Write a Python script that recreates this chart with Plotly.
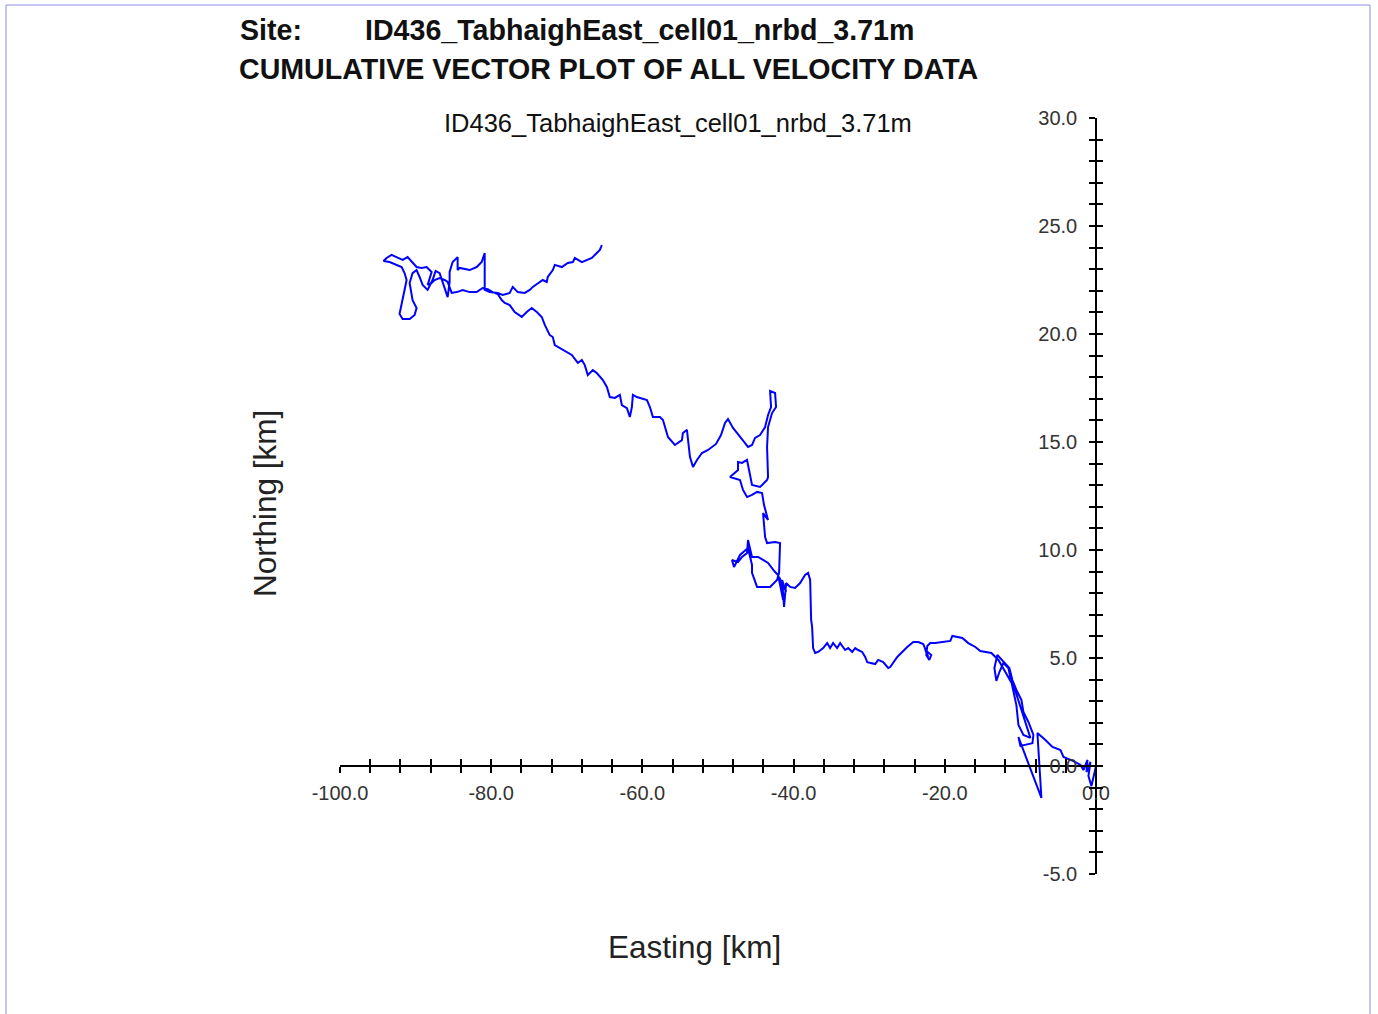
import plotly.graph_objects as go

# ---------------- data (km) ----------------
east_km = [
    0.0, -0.33, -0.6, -1.0, -0.73, -1.26, -1.13, -1.66, -2.05, -2.98,
    -4.3, -4.7, -5.76, -6.69, -7.75, -7.22, -10.26, -10.0, -8.41, -8.28,
    -8.94, -9.6, -9.87, -10.53, -11.06, -11.46, -12.12, -13.05, -13.44, -13.18,
    -12.78, -12.25, -11.59, -10.93, -10.53, -10.26, -9.6, -8.68, -9.47, -10.26,
    -10.79, -11.99, -12.91, -13.84, -14.64, -15.3, -15.96, -16.89, -17.68, -18.48,
    -19.0, -19.27, -20.2, -21.26, -21.92, -22.32, -22.45, -22.05, -21.79, -22.58,
    -22.19, -22.85, -23.51, -24.17, -24.97, -25.63, -26.29, -27.22, -27.48, -28.15,
    -28.81, -29.21, -30.26, -30.53, -30.93, -31.46, -31.85, -32.25, -32.78, -33.18,
    -33.84, -34.24, -34.77, -35.17, -35.56, -36.09, -36.75, -37.15, -37.42, -37.55,
    -37.68, -37.81, -38.08, -38.48, -39.14, -39.8, -40.46, -40.99, -41.26, -41.52,
    -40.99, -41.92, -41.39, -42.05, -42.45, -43.38, -44.04, -44.7, -45.5, -46.03,
    -46.16, -46.82, -47.35, -48.15, -47.88, -47.09, -46.03, -45.5, -45.5, -44.83,
    -43.11, -42.19, -41.92, -41.79, -42.45, -43.51, -43.77, -44.04, -43.38, -43.91,
    -44.17, -44.83, -45.5, -46.16, -46.69, -47.09, -48.41, -47.35, -47.35, -46.82,
    -46.16, -45.5, -44.44, -43.51, -43.38, -43.51, -43.38, -42.85, -42.32, -42.45,
    -43.11, -42.98, -43.38, -43.77, -44.44, -45.1, -45.5, -46.03, -46.42, -47.09,
    -48.01, -48.68, -49.07, -49.6, -50.26, -51.32, -52.12, -52.78, -53.31, -53.71,
    -53.97, -54.11, -54.64, -54.77, -55.7, -56.62, -57.28, -57.68, -58.61, -59.01,
    -59.4, -60.73, -61.26, -61.39, -61.66, -62.05, -62.72, -62.98, -63.64, -64.31,
    -64.7, -65.23, -66.03, -66.56, -67.22, -67.62, -68.01, -68.54, -69.34, -70.53,
    -71.59, -71.85, -72.25, -72.91, -73.31, -73.97, -74.64, -75.3, -75.96, -76.89,
    -77.55, -78.21, -78.61, -79.14, -79.8, -80.46, -81.13, -81.92, -82.85, -83.77,
    -84.57, -85.23, -85.5, -85.76, -86.16, -86.82, -87.48, -87.88, -88.41, -88.15,
    -87.88, -88.54, -89.21, -89.87, -90.53, -91.06, -91.72, -92.52, -93.18, -93.84,
    -94.24, -93.44, -92.78, -91.85, -91.46, -91.19, -91.46, -91.72, -91.99, -92.12,
    -91.72, -90.79, -90.13, -89.87, -90.4, -90.53, -90.79, -90.4, -89.87, -89.47,
    -89.07, -88.41, -87.75, -87.35, -86.82, -85.76, -85.5, -85.5, -85.1, -84.44,
    -84.44, -84.17, -82.85, -81.92, -81.26, -80.86, -80.86, -80.2, -79.14, -78.48,
    -77.55, -77.15, -76.49, -75.56, -74.9, -74.5, -73.84, -73.18, -72.65, -72.52,
    -71.85, -71.59, -70.66, -69.87, -69.2, -68.94, -68.01, -67.35, -66.69, -66.03,
    -65.63, -65.36,
]
north_km = [
    0.0, -0.56, -0.93, -0.46, 0.19, -0.28, 0.28, -0.19, 0.05, 0.23,
    0.42, 0.74, 0.88, 1.2, 1.53, -1.48, 1.34, 0.93, 1.06, 1.44,
    2.04, 2.5, 3.06, 3.52, 3.98, 4.54, 4.81, 5.14, 4.54, 3.94,
    4.35, 4.77, 4.54, 3.52, 2.82, 1.9, 1.44, 1.3, 2.13, 3.06,
    3.61, 4.35, 4.91, 5.23, 5.28, 5.32, 5.51, 5.69, 5.93, 5.97,
    6.02, 5.79, 5.74, 5.69, 5.69, 5.56, 5.14, 4.91, 5.14, 5.37,
    5.05, 5.65, 5.74, 5.74, 5.51, 5.28, 5.05, 4.58, 4.54, 4.81,
    4.91, 4.72, 4.81, 5.05, 5.28, 5.37, 5.46, 5.28, 5.46, 5.37,
    5.69, 5.46, 5.69, 5.46, 5.69, 5.46, 5.28, 5.23, 5.46, 6.44,
    6.76, 8.61, 8.94, 8.84, 8.47, 8.24, 8.29, 8.47, 7.36, 8.61,
    8.06, 8.75, 7.69, 8.84, 8.98, 9.4, 9.54, 9.68, 9.68, 10.46,
    9.86, 9.68, 9.44, 9.54, 9.21, 9.77, 10.09, 9.31, 8.94, 8.29,
    8.29, 8.61, 8.94, 10.32, 10.37, 10.32, 10.6, 11.71, 11.39, 12.08,
    12.64, 12.69, 12.55, 12.45, 12.78, 13.24, 13.38, 13.7, 14.07, 14.03,
    14.17, 13.01, 12.92, 13.24, 13.38, 14.77, 15.69, 16.34, 16.62, 17.27,
    17.36, 16.62, 16.25, 15.69, 15.32, 15.19, 14.86, 14.77, 14.95, 15.23,
    15.65, 16.06, 15.88, 15.32, 14.91, 14.63, 14.49, 14.17, 13.84, 14.31,
    15.09, 15.56, 15.42, 15.09, 14.86, 15.23, 16.02, 16.16, 16.16, 16.62,
    16.94, 17.08, 17.18, 16.62, 16.16, 16.57, 16.71, 17.18, 17.04, 17.08,
    17.55, 17.87, 18.19, 18.33, 18.1, 18.56, 18.8, 18.66, 19.03, 19.26,
    19.49, 19.86, 19.95, 20.42, 20.79, 21.02, 21.2, 21.02, 20.79, 21.02,
    21.34, 21.44, 21.57, 21.85, 21.94, 22.08, 22.13, 21.94, 21.94, 22.04,
    21.94, 21.9, 22.13, 22.41, 22.5, 22.59, 22.5, 22.36, 22.27, 22.55,
    22.87, 23.1, 23.06, 23.1, 23.33, 23.56, 23.43, 23.56, 23.66, 23.52,
    23.38, 23.33, 23.24, 23.1, 22.82, 22.5, 22.04, 21.57, 21.2, 20.93,
    20.69, 20.69, 20.88, 21.2, 21.57, 21.9, 22.36, 22.82, 22.96, 22.64,
    22.27, 22.04, 22.5, 22.92, 22.82, 21.71, 22.41, 22.87, 23.33, 23.56,
    22.96, 23.06, 22.96, 23.1, 23.33, 23.75, 22.04, 21.94, 21.9, 21.81,
    21.9, 22.18, 21.94, 21.9, 22.04, 22.18, 22.36, 22.5, 22.41, 22.64,
    22.96, 23.2, 23.1, 23.29, 23.33, 23.52, 23.33, 23.43, 23.52, 23.75,
    23.89, 24.12,
]

x_major = [-100, -80, -60, -40, -20, 0]
y_major = [-5, 0, 5, 10, 15, 20, 25, 30]
x_range = [-100, 0]
y_range = [-5, 30]

site_label = "Site:"
site_name = "ID436_TabhaighEast_cell01_nrbd_3.71m"
main_title = "CUMULATIVE VECTOR PLOT OF ALL VELOCITY DATA"
x_title = "Easting [km]"
y_title = "Northing [km]"

# ---------------- figure ----------------
W, H = 1378, 1014
ML, MR, MT, MB = 340, 282, 118, 140
PW, PH = W - ML - MR, H - MT - MB


def px(xp):
    return (xp - ML) / PW


def py(yp):
    return (H - MB - yp) / PH


FONT = "Liberation Sans, Arial, sans-serif"
x0_pos = (0 - y_range[0]) / (y_range[1] - y_range[0])   # where N = 0 sits
y0_pos = (0 - x_range[0]) / (x_range[1] - x_range[0])   # where E = 0 sits

fig = go.Figure()
fig.add_trace(go.Scatter(
    x=east_km, y=north_km, mode="lines",
    line=dict(color="#0000ff", width=2),
    showlegend=False, hoverinfo="skip",
))
fig.add_trace(go.Scatter(x=[None], y=[None], xaxis="x2", yaxis="y2",
                         showlegend=False, hoverinfo="skip"))

tick_font = dict(family=FONT, size=20, color="#333333")
tick_style = dict(tickwidth=1.5, ticklen=6, tickcolor="black")
common_x = dict(range=x_range, anchor="free", position=x0_pos,
                showline=True, linecolor="black", linewidth=1.5,
                showgrid=False, zeroline=False, fixedrange=True, **tick_style)
common_y = dict(range=y_range, anchor="free", position=y0_pos, side="left",
                showline=True, linecolor="black", linewidth=1.5,
                showgrid=False, zeroline=False, fixedrange=True, **tick_style)

fig.update_layout(
    width=W, height=H,
    margin=dict(l=ML, r=MR, t=MT, b=MB, pad=0),
    paper_bgcolor="white", plot_bgcolor="white",
    xaxis=dict(**common_x, tickvals=x_major,
               ticktext=[f"{v:.1f}" for v in x_major],
               ticks="outside", tickfont=tick_font, ticklabelstandoff=3,
               ticklabeloverflow="allow",
               minor=dict(dtick=4, ticks="outside", **tick_style)),
    xaxis2=dict(**common_x, overlaying="x", ticks="inside",
                tickvals=x_major, showticklabels=False,
                minor=dict(dtick=4, ticks="inside", **tick_style)),
    yaxis=dict(**common_y, tickvals=y_major,
               ticktext=[f"{v:.1f}" for v in y_major],
               ticks="inside", tickfont=tick_font, ticklabelstandoff=14,
               ticklabeloverflow="allow",
               minor=dict(dtick=1, ticks="inside", **tick_style)),
    yaxis2=dict(**common_y, overlaying="y", ticks="outside",
                tickvals=y_major, showticklabels=False,
                minor=dict(dtick=1, ticks="outside", **tick_style)),
    shapes=[dict(type="rect", xref="paper", yref="paper",
                 x0=px(6), x1=px(1370), y0=py(1030), y1=py(5),
                 line=dict(color="#8a8ae8", width=1), layer="below")],
    annotations=[
        dict(text=f"<b>{site_label}</b>", x=px(238), y=py(30),
             xref="paper", yref="paper", xanchor="left", yanchor="middle",
             showarrow=False, font=dict(family=FONT, size=28.6, color="#111")),
        dict(text=f"<b>{site_name}</b>", x=px(363), y=py(30),
             xref="paper", yref="paper", xanchor="left", yanchor="middle",
             showarrow=False, font=dict(family=FONT, size=28.6, color="#111")),
        dict(text=f"<b>{main_title}</b>", x=px(237), y=py(69),
             xref="paper", yref="paper", xanchor="left", yanchor="middle",
             showarrow=False, font=dict(family=FONT, size=28.6, color="#111")),
        dict(text=site_name, x=px(678), y=py(123),
             xref="paper", yref="paper", xanchor="center", yanchor="middle",
             showarrow=False, font=dict(family=FONT, size=25.5, color="#111")),
        dict(text=x_title, x=px(694), y=py(947),
             xref="paper", yref="paper", xanchor="center", yanchor="middle",
             showarrow=False, font=dict(family=FONT, size=31.5, color="#222")),
        dict(text=y_title, x=px(265), y=py(504), textangle=-90,
             xref="paper", yref="paper", xanchor="center", yanchor="middle",
             showarrow=False, font=dict(family=FONT, size=31.5, color="#222")),
    ],
)

fig.write_html("out.html", config={"displayModeBar": False},
               post_script="document.body.style.margin='0';document.body.style.overflow='hidden';")
